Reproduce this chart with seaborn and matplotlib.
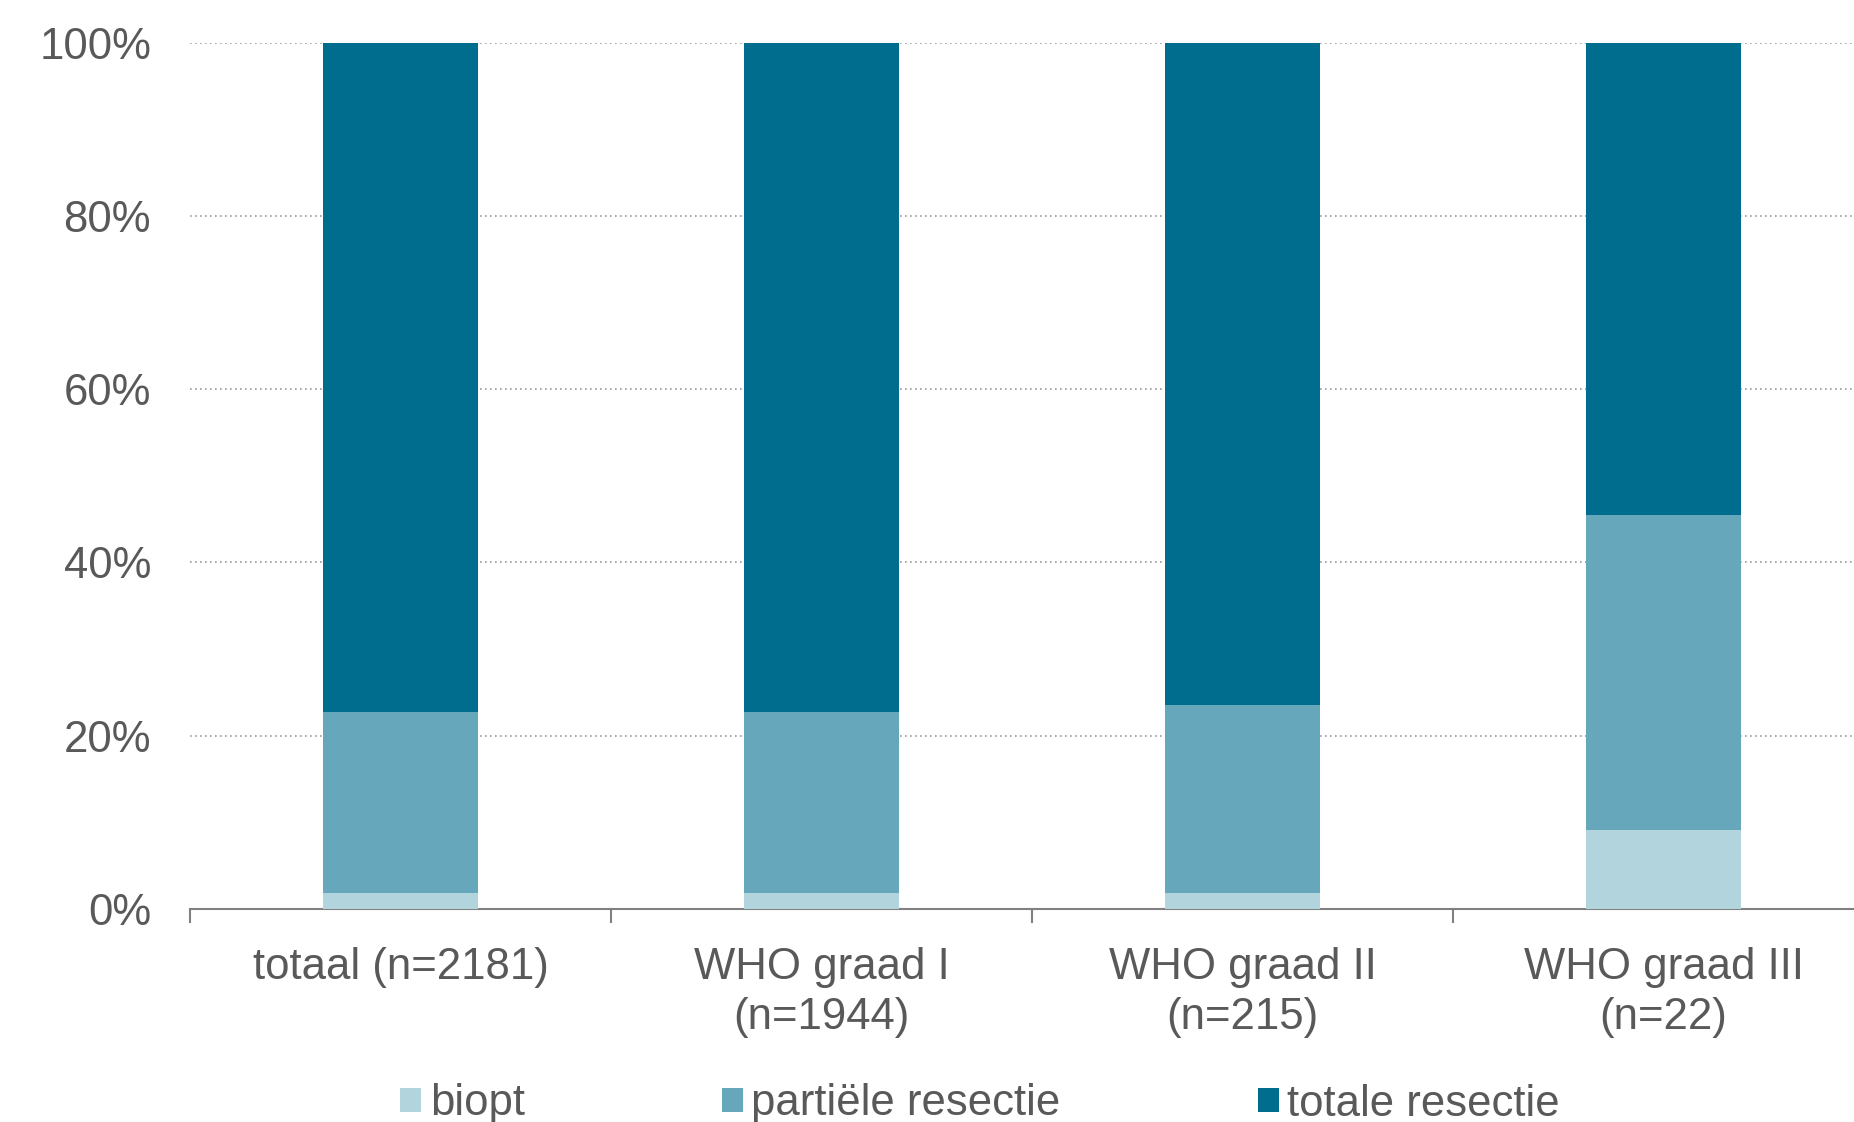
import matplotlib
matplotlib.use("Agg")
import matplotlib.pyplot as plt
import seaborn as sns
import pandas as pd
from matplotlib.patches import Patch
from matplotlib.ticker import FixedLocator, FuncFormatter

categories = ["totaal (n=2181)", "WHO graad I\n(n=1944)", "WHO graad II\n(n=215)", "WHO graad III\n(n=22)"]
biopt = [1.9, 1.9, 1.9, 9.1]
partiele = [20.8, 20.8, 21.7, 36.4]
totale = [77.3, 77.3, 76.4, 54.5]
series_names = ["biopt", "partiële resectie", "totale resectie"]
colors = ["#B2D4DD", "#66A7BC", "#006D8E"]
y_ticks = [0, 20, 40, 60, 80, 100]

sns.set_theme(style="white")
plt.rcParams['font.family'] = ['Liberation Sans', 'DejaVu Sans']

W, H = 1854, 1122
fig = plt.figure(figsize=(W / 100, H / 100), dpi=100)
ax = fig.add_axes([190 / W, (H - 909) / H, (W - 190) / W, (909 - 42.6) / H])

df = pd.DataFrame({"cat": categories, "biopt": biopt, "partiele": partiele, "totale": totale})
df["c1"] = df["biopt"]
df["c2"] = df["biopt"] + df["partiele"]
df["c3"] = df["c2"] + df["totale"]

for col, color in zip(["c3", "c2", "c1"], colors[::-1]):
    sns.barplot(data=df, x="cat", y=col, color=color, saturation=1, width=0.366,
                linewidth=0, ax=ax, zorder=3)

ax.set_xlim(-0.5, -0.5 + (W - 190) / 421)
ax.set_ylim(0, 100)
ax.set_xlabel("")
ax.set_ylabel("")

txt = "#595959"
ax.yaxis.set_major_locator(FixedLocator(y_ticks))
ax.yaxis.set_major_formatter(FuncFormatter(lambda v, p: f"{int(v)}%"))
ax.tick_params(axis="y", length=0, pad=28, labelsize=31.5, labelcolor=txt)
ax.tick_params(axis="x", which="major", length=0, pad=27, labelsize=31.5, labelcolor=txt)
for lbl in ax.get_xticklabels():
    lbl.set_linespacing(1.3)
ax.xaxis.set_minor_locator(FixedLocator([-0.5, 0.5, 1.5, 2.5, 3.5]))
ax.tick_params(axis="x", which="minor", length=10, width=1.5, color="#808080", bottom=True)
ax.yaxis.grid(True, linestyle=(0, (1, 2)), color="#9A9A9A", linewidth=1.2, zorder=0)
ax.xaxis.grid(False)
ax.set_axisbelow(True)

for s in ["top", "right", "left"]:
    ax.spines[s].set_visible(False)
ax.spines["bottom"].set_color("#808080")
ax.spines["bottom"].set_linewidth(1.5)
ax.spines["bottom"].set_zorder(2)

handles = [Patch(facecolor=c, edgecolor="none") for c in colors]
fig.legend(handles, series_names, loc="center", bbox_to_anchor=(980 / W, 18 / H),
           ncol=3, frameon=False, fontsize=31.5, handlelength=0.48, handleheight=0.48,
           handletextpad=0.2, columnspacing=4.5, borderpad=0, borderaxespad=0,
           labelcolor=txt)

fig.savefig("out.png", dpi=100)
